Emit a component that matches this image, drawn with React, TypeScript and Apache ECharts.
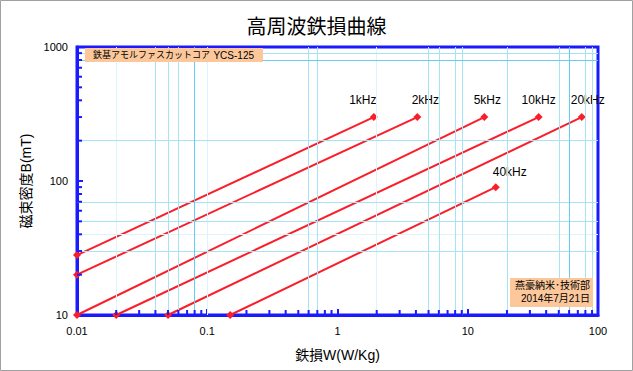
import React, { useEffect, useRef } from 'react';
import * as echarts from 'echarts';

// ---- data ----
const seriesNames = ['1kHz', '2kHz', '5kHz', '10kHz', '20kHz', '40kHz'];
const lossStart = [0.01, 0.01, 0.01, 0.02, 0.05, 0.15];
const lossEnd = [1.9, 4.1, 13.4, 35, 75, 16.4];
const fluxStart = [28, 20, 10, 10, 10, 10];
const fluxEnd = [300, 300, 300, 300, 300, 90];

const xTickLabels = ['0.01', '0.1', '1', '10', '100'];
const yTickLabels = ['10', '100', '1000'];

const xMinorTicks = [
  0.02, 0.03, 0.04, 0.05, 0.06, 0.07, 0.08, 0.09,
  0.2, 0.3, 0.4, 0.5, 0.6, 0.7, 0.8, 0.9,
  2, 3, 4, 5, 6, 7, 8, 9,
  20, 30, 40, 50, 60, 70, 80, 90,
];
const yMinorTicks = [20, 30, 40, 50, 60, 70, 80, 90, 200, 300, 400, 500, 600, 700, 800, 900];

const xGridMain = [0.04, 0.05, 0.06, 0.6, 0.7, 5, 6, 8, 9, 20, 50, 80, 90];
const xGridStrong = [0.08, 60];
const xGridFaint = [0.02, 0.1, 2];
const yGridMain = [30, 50, 70, 200, 900];
const yGridStrong = [800];
const yGridFaint = [40];

const titleText = '高周波鉄損曲線';
const xAxisName = '鉄損W(W/Kg)';
const yAxisName = '磁束密度B(mT)';
const noteJp = '鉄基アモルファスカットコア';
const noteCode = 'YCS-125';
const creditLines = ['燕豪納米･技術部', '2014年7月21日'];

const FONT = "'Liberation Sans', 'Noto Sans CJK JP', sans-serif";
const BLUE = '#1a1aff';
const RED = '#fa1e2a';

export default function App() {
  const ref = useRef<HTMLDivElement>(null);

  useEffect(() => {
    if (!ref.current) return;
    const chart = echarts.init(ref.current, undefined, { renderer: 'svg' });

    const labelOffsets = [[-11, 0], [8, 0], [3, 0], [0, 0], [6, 0], [14, 2]];

    const lineSeries = seriesNames.map((name, i) => ({
      type: 'line',
      name,
      z: 3,
      symbol: 'diamond',
      symbolSize: 8,
      showSymbol: true,
      lineStyle: { color: RED, width: 2 },
      itemStyle: { color: RED },
      data: [
        { value: [lossStart[i], fluxStart[i]] },
        {
          value: [lossEnd[i], fluxEnd[i]],
          label: {
            show: true,
            position: 'top',
            distance: 7,
            offset: labelOffsets[i],
            formatter: name,
            color: '#000',
            fontSize: 12,
            fontFamily: FONT,
          },
        },
      ],
    }));

    const vLine = (vals: number[], color: string) =>
      vals.map((v) => ({ xAxis: v, lineStyle: { color, width: 1, type: 'solid' } }));
    const hLine = (vals: number[], color: string) =>
      vals.map((v) => ({ yAxis: v, lineStyle: { color, width: 1, type: 'solid' } }));

    const gridSeries = {
      type: 'scatter',
      z: 1,
      silent: true,
      data: [],
      markLine: {
        silent: true,
        symbol: ['none', 'none'],
        label: { show: false },
        animation: false,
        data: [
          ...vLine(xGridFaint, '#def3fa'),
          ...hLine(yGridFaint, '#def3fa'),
          ...vLine(xGridMain, '#a6e3f5'),
          ...hLine(yGridMain, '#a6e3f5'),
          ...vLine(xGridStrong, '#62cff0'),
          ...hLine(yGridStrong, '#62cff0'),
        ],
      },
    };

    const xTickSeries = {
      type: 'custom',
      z: 5,
      silent: true,
      data: xMinorTicks.map((v) => [v, 10]),
      renderItem: (params: any, api: any) => {
        const p = api.coord([api.value(0), api.value(1)]);
        return {
          type: 'line',
          shape: { x1: p[0], y1: p[1], x2: p[0], y2: p[1] - 5 },
          style: { stroke: BLUE, lineWidth: 2 },
        };
      },
    };
    const yTickSeries = {
      type: 'custom',
      z: 5,
      silent: true,
      data: yMinorTicks.map((v) => [0.01, v]),
      renderItem: (params: any, api: any) => {
        const p = api.coord([api.value(0), api.value(1)]);
        return {
          type: 'line',
          shape: { x1: p[0], y1: p[1], x2: p[0] + 5, y2: p[1] },
          style: { stroke: BLUE, lineWidth: 2 },
        };
      },
    };

    chart.setOption({
      animation: false,
      backgroundColor: '#fff',
      title: {
        text: titleText,
        left: 'center',
        top: 12,
        textStyle: { fontSize: 20, fontWeight: 'normal', color: '#000', fontFamily: FONT },
      },
      grid: {
        left: 77,
        right: 35,
        top: 47,
        bottom: 56,
        show: true,
        borderColor: BLUE,
        borderWidth: 3,
        backgroundColor: '#fff',
      },
      xAxis: {
        type: 'log',
        logBase: 10,
        min: 0.01,
        max: 100,
        name: xAxisName,
        nameLocation: 'middle',
        nameGap: 33,
        nameTextStyle: { fontSize: 14, color: '#000', fontFamily: FONT },
        axisLine: { show: true, lineStyle: { color: BLUE, width: 3 } },
        axisTick: { show: true, inside: true, length: 6, lineStyle: { color: BLUE, width: 2 } },
        splitLine: { show: false },
        axisLabel: {
          color: '#000',
          fontSize: 11,
          fontFamily: FONT,
          margin: 10,
          formatter: (v: number) => {
            const idx = [0.01, 0.1, 1, 10, 100].findIndex((t) => Math.abs(t - v) / t < 1e-6);
            return idx >= 0 ? xTickLabels[idx] : '';
          },
        },
      },
      yAxis: {
        type: 'log',
        logBase: 10,
        min: 10,
        max: 1000,
        name: yAxisName,
        nameLocation: 'middle',
        nameGap: 40,
        nameRotate: 90,
        nameTextStyle: { fontSize: 14, color: '#000', fontFamily: FONT },
        axisLine: { show: true, lineStyle: { color: BLUE, width: 3 } },
        axisTick: { show: true, inside: true, length: 6, lineStyle: { color: BLUE, width: 2 } },
        splitLine: { show: false },
        axisLabel: {
          color: '#000',
          fontSize: 11,
          fontFamily: FONT,
          margin: 9,
          formatter: (v: number) => {
            const idx = [10, 100, 1000].findIndex((t) => Math.abs(t - v) / t < 1e-6);
            return idx >= 0 ? yTickLabels[idx] : '';
          },
        },
      },
      graphic: [
        {
          type: 'rect',
          silent: true,
          shape: { x: 0.5, y: 0.5, width: 632, height: 370 },
          style: { fill: 'none', stroke: '#a0a0a0', lineWidth: 1 },
        },
        {
          type: 'rect',
          z: 10,
          silent: true,
          shape: { x: 85, y: 48, width: 178, height: 14 },
          style: { fill: '#fcc89b' },
        },
        {
          type: 'text',
          z: 11,
          silent: true,
          x: 93,
          y: 55,
          style: {
            text: noteJp,
            fill: '#000',
            font: `9px ${FONT}`,
            verticalAlign: 'middle',
            align: 'left',
          },
        },
        {
          type: 'text',
          z: 11,
          silent: true,
          x: 254,
          y: 55,
          style: {
            text: noteCode,
            fill: '#000',
            font: `10px ${FONT}`,
            verticalAlign: 'middle',
            align: 'right',
          },
        },
        {
          type: 'rect',
          z: 10,
          silent: true,
          shape: { x: 510, y: 278, width: 83, height: 29 },
          style: { fill: '#fcc89b' },
        },
        {
          type: 'text',
          z: 11,
          silent: true,
          x: 590,
          y: 285,
          style: {
            text: creditLines[0],
            fill: '#000',
            font: `10px ${FONT}`,
            verticalAlign: 'middle',
            align: 'right',
          },
        },
        {
          type: 'text',
          z: 11,
          silent: true,
          x: 590,
          y: 298,
          style: {
            text: creditLines[1],
            fill: '#000',
            font: `10px ${FONT}`,
            verticalAlign: 'middle',
            align: 'right',
          },
        },
      ],
      series: [gridSeries, ...lineSeries, xTickSeries, yTickSeries],
    });

    return () => chart.dispose();
  }, []);

  return (
    <div
      ref={ref}
      style={{ position: 'absolute', left: 0, top: 0, width: 633, height: 371 }}
    />
  );
}
